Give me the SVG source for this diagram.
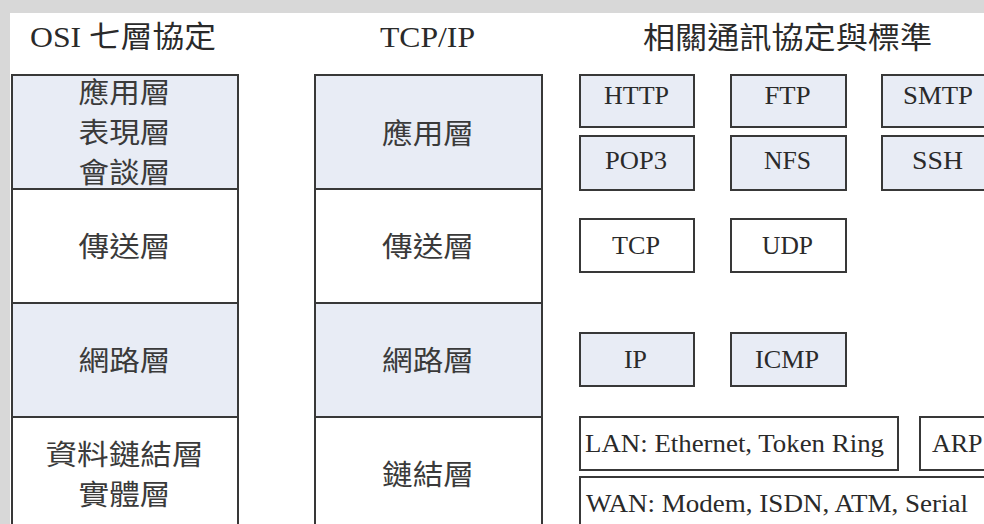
<svg xmlns="http://www.w3.org/2000/svg" width="984" height="524" viewBox="0 0 984 524">
<style>
.bg{fill:#d8d8d8}
.paper{fill:#ffffff}
.box{stroke:#383838;stroke-width:2}
.blue{fill:#e8ecf5}
.white{fill:#ffffff}
.cjk{font-family:"Liberation Serif","Noto Sans CJK TC",serif;font-size:28px;fill:#3a3a3a;text-anchor:middle}
.hdr{font-family:"Liberation Serif","Noto Sans CJK TC",serif;font-size:30px;fill:#2a2a2a}
.lat{font-family:"Liberation Serif","Noto Sans CJK TC",serif;font-size:26px;fill:#2a2a2a;text-anchor:middle}
.latl{font-family:"Liberation Serif","Noto Sans CJK TC",serif;font-size:26px;fill:#2a2a2a}
</style>
<rect class="bg" x="0" y="0" width="984" height="524"/>
<rect class="paper" x="10" y="13" width="974" height="511"/>

<g id="headers">
<text class="hdr" x="30" y="47" textLength="186" lengthAdjust="spacingAndGlyphs">OSI 七層協定</text>
<text class="hdr" x="380" y="47" textLength="95" lengthAdjust="spacingAndGlyphs">TCP/IP</text>
<text class="hdr" x="643" y="48" textLength="289" lengthAdjust="spacingAndGlyphs">相關通訊協定與標準</text>
</g>

<g id="osi-app">
<rect class="box blue" x="12" y="75" width="226" height="114"/>
<text class="cjk" x="124.5" y="103" textLength="92" lengthAdjust="spacingAndGlyphs">應用層</text>
<text class="cjk" x="124.5" y="143" textLength="92" lengthAdjust="spacingAndGlyphs">表現層</text>
<text class="cjk" x="124.5" y="183" textLength="92" lengthAdjust="spacingAndGlyphs">會談層</text>
</g>
<g id="osi-transport">
<rect class="box white" x="12" y="189" width="226" height="114"/>
<text class="cjk" x="124.5" y="257" textLength="92" lengthAdjust="spacingAndGlyphs">傳送層</text>
</g>
<g id="osi-network">
<rect class="box blue" x="12" y="303" width="226" height="114"/>
<text class="cjk" x="124.5" y="371" textLength="92" lengthAdjust="spacingAndGlyphs">網路層</text>
</g>
<g id="osi-link">
<rect class="box white" x="12" y="417" width="226" height="120"/>
<text class="cjk" x="124.5" y="465" textLength="158" lengthAdjust="spacingAndGlyphs">資料鏈結層</text>
<text class="cjk" x="124.5" y="505" textLength="92" lengthAdjust="spacingAndGlyphs">實體層</text>
</g>

<g id="tcpip-app">
<rect class="box blue" x="315" y="75" width="227" height="114"/>
<text class="cjk" x="428" y="144" textLength="92" lengthAdjust="spacingAndGlyphs">應用層</text>
</g>
<g id="tcpip-transport">
<rect class="box white" x="315" y="189" width="227" height="114"/>
<text class="cjk" x="428" y="257" textLength="92" lengthAdjust="spacingAndGlyphs">傳送層</text>
</g>
<g id="tcpip-network">
<rect class="box blue" x="315" y="303" width="227" height="114"/>
<text class="cjk" x="428" y="371" textLength="92" lengthAdjust="spacingAndGlyphs">網路層</text>
</g>
<g id="tcpip-link">
<rect class="box white" x="315" y="417" width="227" height="120"/>
<text class="cjk" x="428" y="485" textLength="92" lengthAdjust="spacingAndGlyphs">鏈結層</text>
</g>

<g id="p-http">
<rect class="box blue" x="580" y="75" width="114" height="52"/>
<text class="lat" x="636.5" y="104" textLength="65" lengthAdjust="spacingAndGlyphs">HTTP</text>
</g>
<g id="p-ftp">
<rect class="box blue" x="731" y="75" width="115" height="52"/>
<text class="lat" x="787.5" y="104" textLength="46" lengthAdjust="spacingAndGlyphs">FTP</text>
</g>
<g id="p-smtp">
<rect class="box blue" x="882" y="75" width="115" height="52"/>
<text class="lat" x="938" y="104" textLength="70" lengthAdjust="spacingAndGlyphs">SMTP</text>
</g>
<g id="p-pop3">
<rect class="box blue" x="580" y="136" width="114" height="54"/>
<text class="lat" x="636" y="169" textLength="62" lengthAdjust="spacingAndGlyphs">POP3</text>
</g>
<g id="p-nfs">
<rect class="box blue" x="731" y="136" width="115" height="54"/>
<text class="lat" x="787.5" y="169" textLength="47" lengthAdjust="spacingAndGlyphs">NFS</text>
</g>
<g id="p-ssh">
<rect class="box blue" x="882" y="136" width="115" height="54"/>
<text class="lat" x="937.5" y="169" textLength="51" lengthAdjust="spacingAndGlyphs">SSH</text>
</g>
<g id="p-tcp">
<rect class="box white" x="580" y="219" width="114" height="53"/>
<text class="lat" x="636" y="254" textLength="48" lengthAdjust="spacingAndGlyphs">TCP</text>
</g>
<g id="p-udp">
<rect class="box white" x="731" y="219" width="115" height="53"/>
<text class="lat" x="787.5" y="254" textLength="51" lengthAdjust="spacingAndGlyphs">UDP</text>
</g>
<g id="p-ip">
<rect class="box blue" x="580" y="333" width="114" height="53"/>
<text class="lat" x="635.5" y="368" textLength="23" lengthAdjust="spacingAndGlyphs">IP</text>
</g>
<g id="p-icmp">
<rect class="box blue" x="731" y="333" width="115" height="53"/>
<text class="lat" x="787" y="368" textLength="64" lengthAdjust="spacingAndGlyphs">ICMP</text>
</g>
<g id="p-lan">
<rect class="box white" x="580" y="417" width="318" height="53"/>
<text class="latl" x="585" y="452" textLength="299" lengthAdjust="spacingAndGlyphs">LAN: Ethernet, Token Ring</text>
</g>
<g id="p-arp">
<rect class="box white" x="920" y="417" width="80" height="53"/>
<text class="latl" x="932" y="452">ARP</text>
</g>
<g id="p-wan">
<rect class="box white" x="580" y="477" width="420" height="60"/>
<text class="latl" x="586" y="512" textLength="382" lengthAdjust="spacingAndGlyphs">WAN: Modem, ISDN, ATM, Serial</text>
</g>

<g id="connectors"/>
</svg>
